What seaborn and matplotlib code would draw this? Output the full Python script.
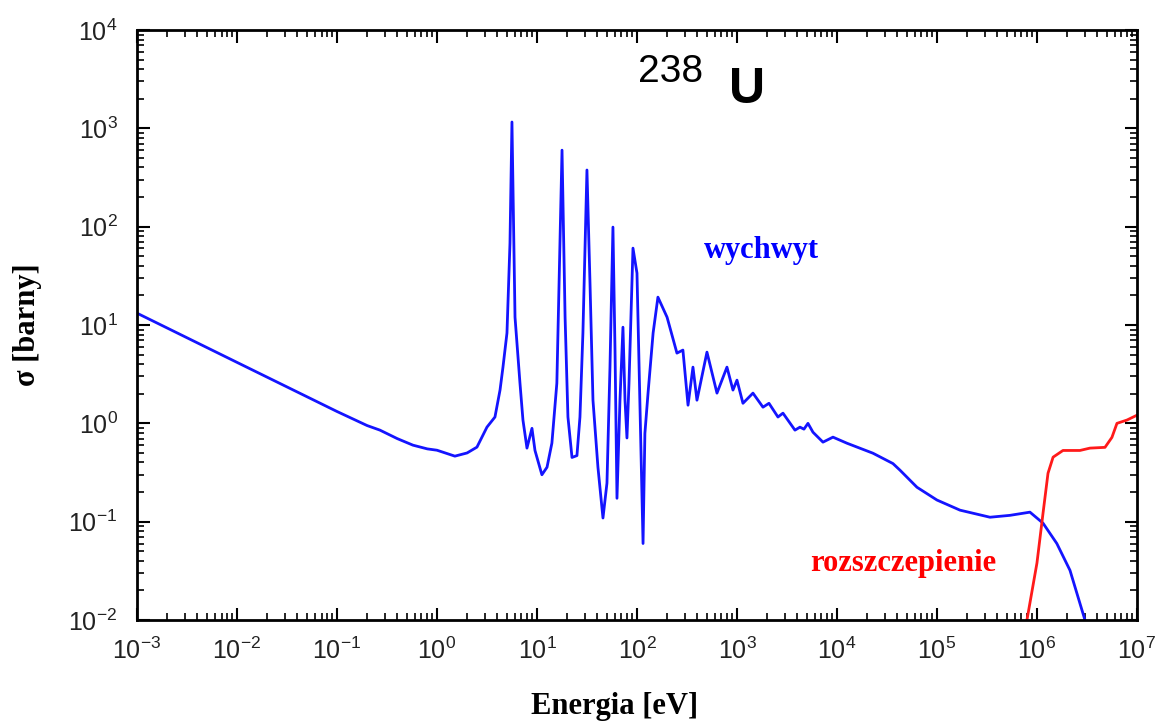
import numpy as np
import pandas as pd
import matplotlib
matplotlib.use("Agg")
import matplotlib.pyplot as plt
import matplotlib.ticker as mticker
import seaborn as sns

# U-238 capture cross section, energy in eV, sigma in barns
energy_capture = [1e-3, 1e-2, 0.1, 0.2, 0.269, 0.4, 0.575, 0.8, 1.0, 1.51, 2.0, 2.51, 3.16,
                  3.80, 4.27, 4.57, 5.01, 5.37, 5.62, 6.03, 6.76, 7.24, 7.94,
                  8.91, 9.55, 11.2, 12.6, 14.1, 15.8, 17.8, 19.1, 20.4, 22.4,
                  25.1, 26.9, 28.8, 31.6, 33.9, 36.3, 40.7, 45.7, 50.1, 53.7,
                  57.5, 60.3, 63.1, 67.6, 72.4, 75.9, 79.4, 83.2, 91.2, 100,
                  105, 115, 120, 129, 145, 162, 200, 251, 288, 324,
                  363, 398, 501, 631, 794, 912, 1000, 1148, 1445, 1820,
                  2089, 2570, 2884, 3802, 4266, 4677, 5129, 5754, 7244, 9120,
                  12590, 22900, 36300, 42700, 63100, 1e5, 1.7e5, 3.39e5, 5.37e5, 8.51e5,
                  1.15e6, 1.58e6, 2.14e6, 3.02e6]
sigma_capture = [13.2, 4.17, 1.32, 0.95, 0.853, 0.70, 0.60, 0.55, 0.533, 0.464, 0.50, 0.573, 0.915,
                 1.16, 2.18, 3.73, 8.3, 68, 1160, 12.0, 2.56, 1.08, 0.56,
                 0.89, 0.53, 0.30, 0.358, 0.63, 2.56, 600, 12.0, 1.16, 0.45,
                 0.47, 1.16, 8.3, 377, 26.7, 1.72, 0.358, 0.109, 0.247, 3.73,
                 99, 5.56, 0.173, 1.72, 9.5, 1.72, 0.71, 2.56, 60.5, 33.7,
                 3.73, 0.060, 0.79, 2.03, 8.3, 19.2, 12.0, 5.18, 5.56, 1.53,
                 3.73, 1.72, 5.3, 2.03, 3.73, 2.18, 2.75, 1.60, 2.03, 1.46,
                 1.60, 1.16, 1.27, 0.853, 0.915, 0.873, 1.0, 0.813, 0.644, 0.724,
                 0.628, 0.497, 0.39, 0.334, 0.224, 0.166, 0.131, 0.111, 0.116, 0.125,
                 0.0966, 0.060, 0.032, 0.010]

# fission cross section
energy_fission = [7.94e5, 1e6, 1.15e6, 1.29e6, 1.45e6, 1.82e6, 2.69e6,
                  3.39e6, 4.79e6, 5.62e6, 6.31e6, 7.94e6, 1e7]
sigma_fission = [0.01, 0.038, 0.122, 0.311, 0.453, 0.53, 0.53,
                 0.56, 0.57, 0.72, 1.0, 1.08, 1.21]

x_limits = [1e-3, 1e7]
y_limits = [1e-2, 1e4]

capture = pd.DataFrame({"E": energy_capture, "sigma": sigma_capture})
fission = pd.DataFrame({"E": energy_fission, "sigma": sigma_fission})

sns.set_style("ticks")
plt.rcParams["font.family"] = ["Liberation Sans", "DejaVu Sans"]
plt.rcParams["mathtext.fontset"] = "custom"
plt.rcParams["mathtext.rm"] = "Liberation Sans"

fig = plt.figure(figsize=(11.63, 7.25), dpi=100)
ax = fig.add_axes([0.1178, 0.1448, 0.8598, 0.8138])

sns.lineplot(data=capture, x="E", y="sigma", ax=ax, color="#1414ff",
             linewidth=2.0, estimator=None, sort=False)
sns.lineplot(data=fission, x="E", y="sigma", ax=ax, color="#ff1a1a",
             linewidth=2.0, estimator=None, sort=False)

ax.set_xscale("log")
ax.set_yscale("log")
ax.set_xlim(x_limits)
ax.set_ylim(y_limits)

ax.xaxis.set_major_locator(mticker.LogLocator(base=10, numticks=20))
ax.yaxis.set_major_locator(mticker.LogLocator(base=10, numticks=20))
ax.xaxis.set_minor_locator(mticker.LogLocator(base=10, subs=np.arange(2, 10), numticks=200))
ax.yaxis.set_minor_locator(mticker.LogLocator(base=10, subs=np.arange(2, 10), numticks=200))
ax.xaxis.set_minor_formatter(mticker.NullFormatter())
ax.yaxis.set_minor_formatter(mticker.NullFormatter())

ax.tick_params(which="both", direction="in", top=True, right=True, color="black")
ax.tick_params(which="major", length=9, width=1.5, labelsize=18, labelcolor="#222222")
ax.tick_params(axis="x", which="major", pad=13)
ax.tick_params(axis="y", which="major", pad=14)
ax.tick_params(which="minor", length=5, width=1.2)
for spine in ax.spines.values():
    spine.set_linewidth(2.0)
    spine.set_color("black")

ax.set_xlabel("Energia [eV]", family="Liberation Serif", fontweight="bold",
              fontsize=22, color="black")
ax.set_ylabel("σ [barny]", family="Liberation Serif", fontweight="bold",
              fontsize=22, color="black")
ax.xaxis.set_label_coords(0.478, -0.122)
ax.yaxis.set_label_coords(-0.095, 0.50)

ax.text(0.534, 0.929, "238", transform=ax.transAxes, ha="center", va="center",
        fontsize=28, color="black")
ax.text(0.61, 0.898, "U", transform=ax.transAxes, ha="center", va="center",
        fontsize=36, fontweight="bold", color="black")
ax.text(0.624, 0.627, "wychwyt", transform=ax.transAxes, ha="center", va="center",
        family="Liberation Serif", fontweight="bold", fontsize=22, color="#0000ff")
ax.text(0.766, 0.0966, "rozszczepienie", transform=ax.transAxes, ha="center", va="center",
        family="Liberation Serif", fontweight="bold", fontsize=22, color="#ff0000")

fig.savefig("out.png", dpi=100)
